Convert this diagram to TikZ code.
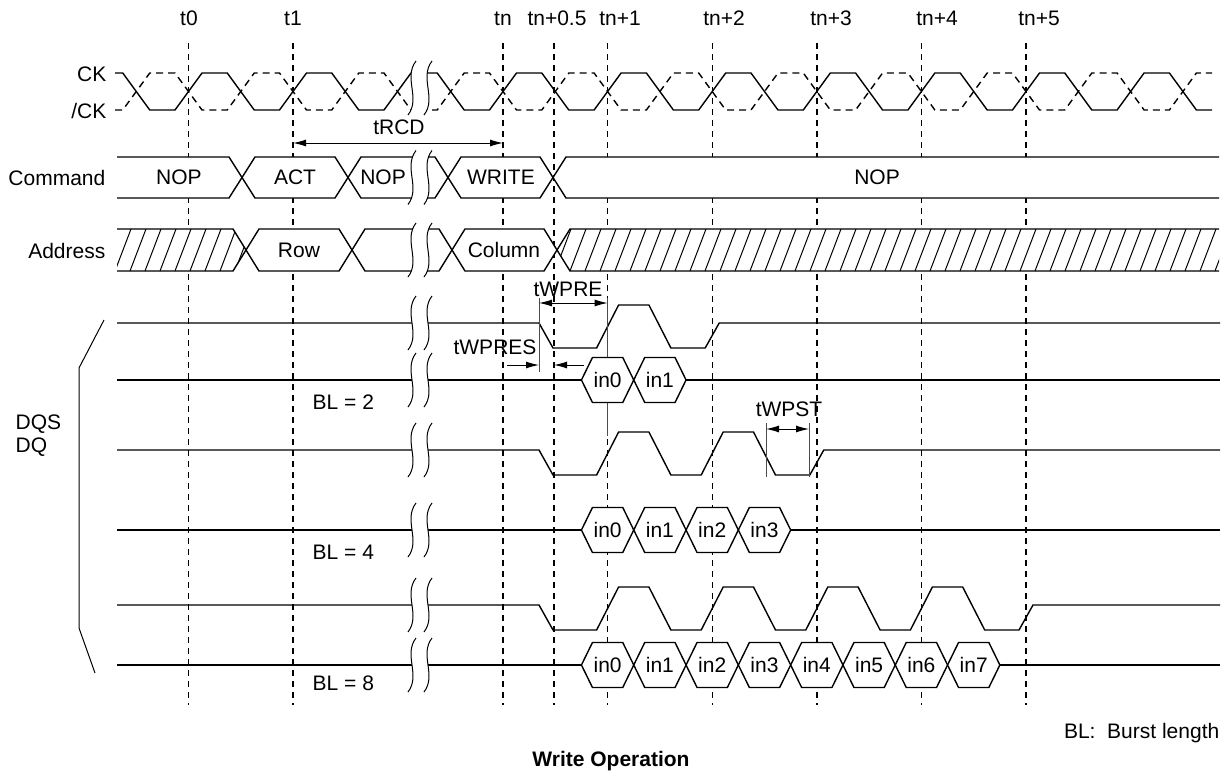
\documentclass[tikz,border=0pt]{standalone}
\usepackage{fontspec}
\setmainfont{Liberation Sans}
\usepackage{tikz}
\usetikzlibrary{arrows.meta,calc}

% Break mark: two wavy lines with a white gap between them
\newcommand{\gapmark}[1]{%
    \fill[white] (416,#1-27) .. controls (403,#1-10) and (421,#1+10) .. (408,#1+27)
        -- (424,#1+27) .. controls (437,#1+10) and (419,#1-10) .. (432,#1-27) -- cycle;
    \draw[line width=0.5pt] (416,#1-27) .. controls (403,#1-10) and (421,#1+10) .. (408,#1+27);
    \draw[line width=0.5pt] (432,#1-27) .. controls (419,#1-10) and (437,#1+10) .. (424,#1+27);
}

\begin{document}
\begin{tikzpicture}[x=0.5pt,y=-0.5pt,line width=0.7pt,inner sep=0pt,
        font=\fontsize{10.5}{11.5}\selectfont,>={Latex[length=6.5pt,width=3.5pt]}]
        % Define the styles
        \tikzstyle{time line}=[dash pattern=on 3pt off 2.5pt];
        \tikzstyle{clock bar}=[dash pattern=on 3.5pt off 2.5pt];
        \tikzstyle{bus}=[fill=white];
        \tikzstyle{hatch}=[line width=0.5pt];
        \tikzstyle{dim line}=[line width=0.5pt, black!70];
        \tikzstyle{dim arrow}=[line width=0.5pt, <->];

        % Clock timing in pixels: before and after the break
        \def\tzero{188.5} \def\pera{104.5}
        \def\tnn{503} \def\perb{104.6}
        \def\hw{13.5}

        \useasboundingbox (0,0) rectangle (1222,777);

        % Time marks with their labels
        \foreach \x/\lx/\txt [count=\i] in {188.5/189/t0, 293/293/t1, 503/503/tn, 554/557/tn+0.5,
                607.6/620/tn+1, 712.2/724/tn+2, 816.8/831/tn+3, 921.4/937/tn+4, 1026/1039/tn+5} {
            \draw[time line] (\x,43) -- (\x,705);
            \node[anchor=base] (mark\i) at (\lx,25) {\txt};
        }

        % CK and /CK before the break
        \draw (115,73) \foreach \k in {0,1,2} { -- ({\tzero+(\k-0.5)*\pera-\hw},73) -- ({\tzero+(\k-0.5)*\pera+\hw},110)
            -- ({\tzero+\k*\pera-\hw},110) -- ({\tzero+\k*\pera+\hw},73) } -- (420,73);
        \draw[clock bar] (115,110) \foreach \k in {0,1,2} { -- ({\tzero+(\k-0.5)*\pera-\hw},110) -- ({\tzero+(\k-0.5)*\pera+\hw},73)
            -- ({\tzero+\k*\pera-\hw},73) -- ({\tzero+\k*\pera+\hw},110) } -- (420,110);

        % CK and /CK after the break
        \draw (420,73) \foreach \k in {0,...,6} { -- ({\tnn+(\k-0.5)*\perb-\hw},73) -- ({\tnn+(\k-0.5)*\perb+\hw},110)
            -- ({\tnn+\k*\perb-\hw},110) -- ({\tnn+\k*\perb+\hw},73) }
            -- ({\tnn+6.5*\perb-\hw},73) -- ({\tnn+6.5*\perb+\hw},110) -- (1212,110);
        \draw[clock bar] (420,110) \foreach \k in {0,...,6} { -- ({\tnn+(\k-0.5)*\perb-\hw},110) -- ({\tnn+(\k-0.5)*\perb+\hw},73)
            -- ({\tnn+\k*\perb-\hw},73) -- ({\tnn+\k*\perb+\hw},110) }
            -- ({\tnn+6.5*\perb-\hw},110) -- ({\tnn+6.5*\perb+\hw},73) -- (1212,73);

        % Command bus
        \draw[bus] (117,157) -- (229,157) -- (242,177.5) -- (229,198) -- (117,198);
        \foreach \a/\b in {242/348, 348/448, 448/553}
            \draw[bus] (\a,177.5) -- (\a+13,157) -- (\b-13,157) -- (\b,177.5) -- (\b-13,198) -- (\a+13,198) -- cycle;
        \draw[bus] (1219,157) -- (566,157) -- (553,177.5) -- (566,198) -- (1219,198);
        \node (nop1) at (179,177.5) {NOP};
        \node (act) at (295,177.5) {ACT};
        \node (nop2) at (383,177.5) {NOP};
        \node (write) at (501,177.5) {WRITE};
        \node (nop3) at (877,177.5) {NOP};

        % Address bus, hatched where it does not matter
        \fill[white] (117,229) -- (233,229) -- (246,250) -- (233,271) -- (117,271) -- cycle;
        \fill[white] (1219,229) -- (570,229) -- (557,250) -- (570,271) -- (1219,271) -- cycle;
        \begin{scope}
            \clip (117,229) -- (233,229) -- (246,250) -- (233,271) -- (117,271) -- cycle;
            \foreach \x in {100,115,...,250} \draw[hatch] (\x,271) -- (\x+16,229);
        \end{scope}
        \begin{scope}
            \clip (1219,229) -- (570,229) -- (557,250) -- (570,271) -- (1219,271) -- cycle;
            \foreach \x in {540,555,...,1225} \draw[hatch] (\x,271) -- (\x+16,229);
        \end{scope}
        \draw (117,229) -- (233,229) -- (246,250) -- (233,271) -- (117,271);
        \draw (1219,229) -- (570,229) -- (557,250) -- (570,271) -- (1219,271);
        \foreach \a/\b in {246/352, 352/452, 452/557}
            \draw[bus] (\a,250) -- (\a+13,229) -- (\b-13,229) -- (\b,250) -- (\b-13,271) -- (\a+13,271) -- cycle;
        \node (row) at (299,250) {Row};
        \node (col) at (504,250) {Column};

        % DQS for BL = 2, 4 and 8
        \foreach \m/\np in {323/1, 450/2, 605/4} {
            \draw (117,\m) -- (539,\m) -- (553,\m+25)
                \foreach \k in {1,...,\np} { -- ({\tnn+\k*\perb-11},\m+25) -- ({\tnn+\k*\perb+11},\m-18)
                    -- ({\tnn+(\k+0.5)*\perb-11},\m-18) -- ({\tnn+(\k+0.5)*\perb+11},\m+25) }
                -- ({\tnn+(\np+1)*\perb-7},\m+25) -- ({\tnn+(\np+1)*\perb+7},\m) -- (1220,\m);
        }

        % Extension lines of the preamble and postamble
        \draw[dim line] (539,298) -- (539,372);
        \draw[dim line] (607.6,298) -- (607.6,436);
        \draw[dim line] (766,423) -- (766,477);
        \draw[dim line] (809,423) -- (809,477);

        % DQ with the data words
        \foreach \y/\nb in {380/2, 530/4, 665/8} {
            \draw (117,\y) -- (1220,\y);
            \foreach \j in {1,...,\nb} {
                \pgfmathsetmacro{\xa}{\tnn+(0.25+0.5*\j)*\perb}
                \pgfmathsetmacro{\xb}{\xa+0.5*\perb}
                \pgfmathtruncatemacro{\q}{\j-1}
                \draw[bus] (\xa,\y) -- (\xa+11,\y-22.5) -- (\xb-11,\y-22.5) -- (\xb,\y)
                    -- (\xb-11,\y+22.5) -- (\xa+11,\y+22.5) -- cycle;
                \node (in\nb-\q) at ({(\xa+\xb)/2},\y) {in\q};
            }
        }

        % Breaks in every signal
        \foreach \y in {88,177.5,250,323,380,450,530,605,665} {\gapmark{\y}}

        % DQS / DQ bracket
        \draw[line width=0.5pt] (104,320) -- (79,368) -- (79,628) -- (95,673);

        % Signal names
        \node[anchor=east] (ck) at (107,74) {CK};
        \node[anchor=east] (ckb) at (107,111) {/CK};
        \node[anchor=east] (cmd) at (106,177.5) {Command};
        \node[anchor=east] (addr) at (106,251) {Address};
        \node[anchor=west, align=left] (dqs) at (15,436) {DQS\\DQ};
        \node[anchor=west] (bl2) at (312,402) {BL = 2};
        \node[anchor=west] (bl4) at (312,552) {BL = 4};
        \node[anchor=west] (bl8) at (312,683) {BL = 8};

        % Timing parameters
        \coordinate (rcd a) at (293,143);
        \coordinate (rcd b) at (503,143);
        \draw[dim arrow] (rcd a) -- (rcd b);
        \node (trcd) at (399,127) {tRCD};

        \coordinate (wpre a) at (539,303);
        \coordinate (wpre b) at (607.6,303);
        \draw[dim arrow] (wpre a) -- (wpre b);
        \node (twpre) at (568,289) {tWPRE};

        \coordinate (wpres a) at (539,365);
        \coordinate (wpres b) at (554,365);
        \draw[line width=0.5pt, ->] (507,365) -- (wpres a);
        \draw[line width=0.5pt, ->] (584,365) -- (wpres b);
        \node (twpres) at (495,347) {tWPRES};

        \coordinate (wpst a) at (766,429);
        \coordinate (wpst b) at (809,429);
        \draw[dim arrow] (wpst a) -- (wpst b);
        \node (twpst) at (789,409) {tWPST};

        % Notes and title
        \node[anchor=east] (note) at (1220,733) {BL:\ \ Burst length};
        \node[font=\fontsize{10.5}{11.5}\selectfont\bfseries] (title) at (611,761) {Write Operation};
    \end{tikzpicture}
\end{document}
